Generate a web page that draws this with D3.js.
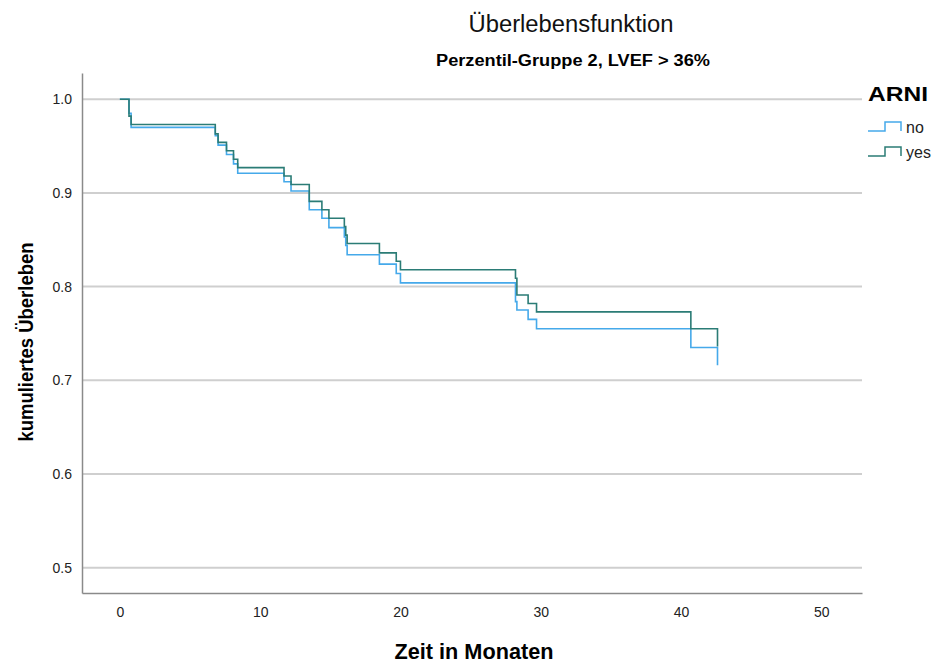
<!DOCTYPE html>
<html>
<head>
<meta charset="utf-8">
<script src="https://cdn.jsdelivr.net/npm/d3@7"></script>
<style>
  body { margin: 0; background: #fff; }
  text { font-family: "Liberation Sans", Arial, sans-serif; }
</style>
</head>
<body>
<svg id="chart" width="937" height="664"></svg>
<script>
// Kaplan-Meier Schätzungen
var timesNo  = [0, 0.65, 0.8, 6.8, 7.0, 7.6, 8.1, 8.4, 11.7, 12.2, 13.5, 14.4, 14.9, 16.0, 16.1, 16.2, 18.5, 19.7, 20.0, 28.2, 28.3, 29.1, 29.7, 40.7, 42.6]
var survNo   = [1.0, 0.985, 0.970, 0.961, 0.951, 0.941, 0.931, 0.921, 0.912, 0.902, 0.882, 0.873, 0.863, 0.853, 0.844, 0.834, 0.824, 0.814, 0.804, 0.784, 0.775, 0.765, 0.755, 0.735, 0.716]
var timesYes = [0, 0.65, 0.8, 6.8, 7.0, 7.6, 8.1, 8.4, 11.7, 12.2, 13.5, 14.4, 14.9, 16.0, 16.1, 16.2, 18.5, 19.7, 20.0, 28.2, 28.3, 29.1, 29.7, 40.7, 42.6]
var survYes  = [1.0, 0.982, 0.973, 0.963, 0.954, 0.945, 0.936, 0.927, 0.918, 0.909, 0.891, 0.882, 0.873, 0.864, 0.855, 0.846, 0.836, 0.827, 0.818, 0.809, 0.791, 0.782, 0.773, 0.755, 0.736]
var groups = ["no", "yes"]
var colors = ["#45a9ea", "#2b7c76"]
var xTicks = [0, 10, 20, 30, 40, 50]
var yTicks = [0.5, 0.6, 0.7, 0.8, 0.9, 1.0]

var svg = d3.select("#chart")
var margin = {left: 82, right: 75, top: 73, bottom: 71}
var W = 937, H = 664

var x = d3.scaleLinear().domain([-2.7, 52.9]).range([margin.left, W - margin.right])
var y = d3.scaleLinear().domain([0.473, 1.028]).range([H - margin.bottom, margin.top])

// gridlines
svg.append("g")
  .selectAll("line")
  .data(yTicks)
  .enter()
  .append("line")
  .attr("x1", margin.left)
  .attr("x2", W - margin.right)
  .attr("y1", function(d){ return y(d) })
  .attr("y2", function(d){ return y(d) })
  .style("stroke", "#cfcfcf")
  .style("stroke-width", 2)

// axes
var xAxis = d3.axisBottom(x).tickValues(xTicks).tickSize(0).tickPadding(14).tickFormat(d3.format("d"))
var yAxis = d3.axisLeft(y).tickValues(yTicks).tickSize(0).tickPadding(10).tickFormat(d3.format(".1f"))

var gx = svg.append("g")
  .attr("transform", "translate(0," + (H - margin.bottom) + ")")
  .call(xAxis)
gx.select(".domain").style("stroke", "#8a8a8a").style("stroke-width", 1.5)
gx.selectAll("text").style("font-size", "14px").style("fill", "#222")

var gy = svg.append("g")
  .attr("transform", "translate(" + margin.left + ",0)")
  .call(yAxis)
gy.select(".domain").style("stroke", "#8a8a8a").style("stroke-width", 1.5)
gy.selectAll("text").style("font-size", "14px").style("fill", "#222")

// survival curves
var line = d3.line()
  .x(function(d){ return x(d[0]) })
  .y(function(d){ return y(d[1]) })
  .curve(d3.curveStepAfter)

var series = [d3.zip(timesNo, survNo), d3.zip(timesYes, survYes)]

svg.append("g")
  .selectAll("path")
  .data(series)
  .enter()
  .append("path")
  .attr("d", line)
  .style("fill", "none")
  .style("stroke", function(d, i){ return colors[i] })
  .style("stroke-width", 1.6)

// titles
svg.append("text")
  .attr("x", 571).attr("y", 32)
  .attr("text-anchor", "middle")
  .attr("textLength", 205)
  .attr("lengthAdjust", "spacingAndGlyphs")
  .style("font-size", "23px")
  .style("fill", "#111")
  .text("Überlebensfunktion")

svg.append("text")
  .attr("x", 573).attr("y", 66)
  .attr("text-anchor", "middle")
  .attr("textLength", 274)
  .attr("lengthAdjust", "spacingAndGlyphs")
  .style("font-size", "16px")
  .style("font-weight", "bold")
  .text("Perzentil-Gruppe 2, LVEF > 36%")

svg.append("text")
  .attr("x", 474).attr("y", 659)
  .attr("text-anchor", "middle")
  .attr("textLength", 159)
  .attr("lengthAdjust", "spacingAndGlyphs")
  .style("font-size", "22px")
  .style("font-weight", "bold")
  .text("Zeit in Monaten")

svg.append("text")
  .attr("transform", "translate(33,342) rotate(-90)")
  .attr("text-anchor", "middle")
  .attr("textLength", 199)
  .attr("lengthAdjust", "spacingAndGlyphs")
  .style("font-size", "21px")
  .style("font-weight", "bold")
  .text("kumuliertes Überleben")

// legend
var lg = svg.append("g").attr("transform", "translate(866,0)")
lg.append("text")
  .attr("x", 2).attr("y", 101)
  .attr("textLength", 60)
  .attr("lengthAdjust", "spacingAndGlyphs")
  .style("font-size", "21px")
  .style("font-weight", "bold")
  .text("ARNI")

groups.forEach(function(g, i){
  var yy = 127 + i * 25
  lg.append("path")
    .attr("d", "M2," + (yy + 4) + "H19V" + (yy - 5) + "H35V" + (yy + 4))
    .style("fill", "none")
    .style("stroke", colors[i])
    .style("stroke-width", 1.5)
  lg.append("text")
    .attr("x", 40).attr("y", yy + 6)
    .style("font-size", "16px")
    .style("fill", "#222")
    .text(g)
})
</script>
</body>
</html>
